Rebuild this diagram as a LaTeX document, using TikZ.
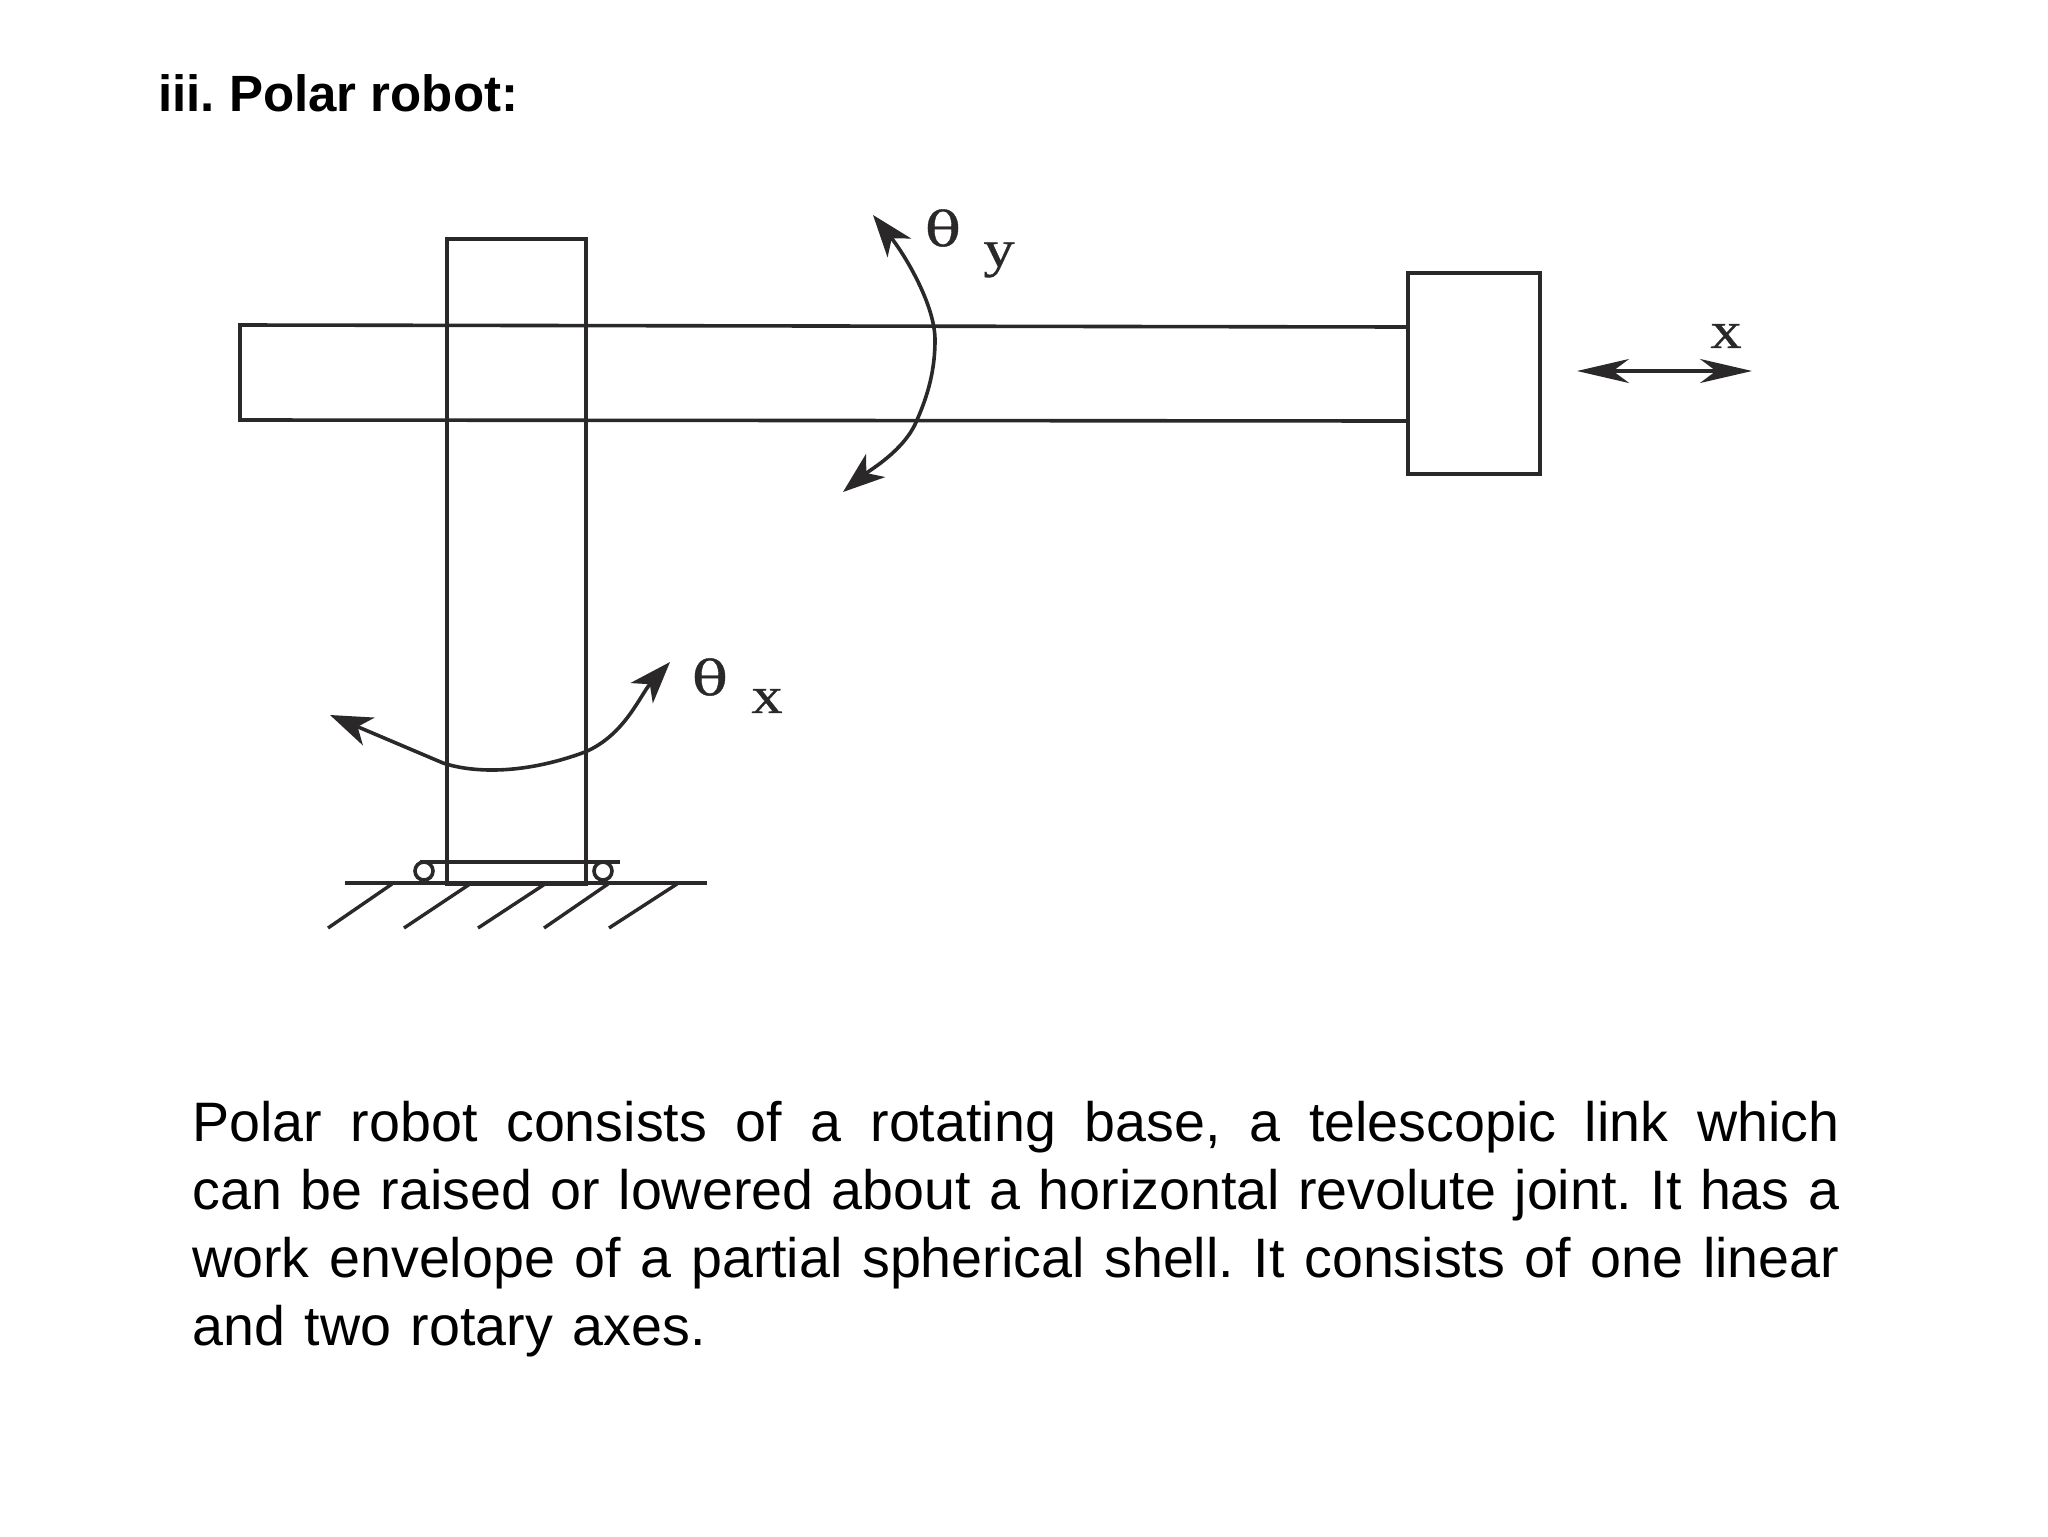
\documentclass[tikz,border=0pt]{standalone}
\usepackage{fontspec}
\setmainfont{Liberation Sans}
\newfontfamily\scanserif[FakeStretch=1.2,FakeBold=0.6]{Liberation Serif}
\newfontfamily\thetafont[FakeStretch=1.25,FakeBold=0.8]{DejaVu Serif}
\usetikzlibrary{arrows.meta}
\definecolor{ink}{HTML}{2A2828}
\tikzset{
  x=0.5pt,y=-0.5pt,
  wire/.style={draw=ink,line width=1.8pt,fill=none},
  thinwire/.style={draw=ink,line width=1.7pt},
  boxpart/.style={wire,rectangle,inner sep=0pt,anchor=north west},
  roller/.style={draw=ink,line width=1.8pt,circle,inner sep=0pt,minimum size=9pt},
  curvehead/.style={{Stealth[length=21pt,width=15pt,inset=6pt]}-{Stealth[length=21pt,width=15pt,inset=6pt]}},
  linehead/.style={{Stealth[length=26pt,width=12pt,inset=8pt]}-{Stealth[length=26pt,width=12pt,inset=8pt]}},
  sxlabel/.style={inner sep=0pt,text=ink,font=\scanserif\fontsize{26}{26}\selectfont},
  thetalabel/.style={inner sep=0pt,text=ink,font=\thetafont\fontsize{24}{24}\selectfont},
}
\begin{document}
\begin{tikzpicture}
\frenchspacing
\useasboundingbox (0,0) rectangle (2048,1536);
\fill[white] (0,0) rectangle (2048,1536);

\node[anchor=base west,inner sep=0pt,font=\bfseries\fontsize{25.5}{30}\selectfont] (title) at (158,112) {iii. Polar robot:};

% column and head
\node[boxpart,minimum width=69.5pt,minimum height=322.5pt] (column) at (445,237) {};
\node[boxpart,minimum width=66pt,minimum height=100.5pt] (head) at (1406,271) {};

% beam
\coordinate (bTL) at (240,325);
\coordinate (bBL) at (240,420);
\coordinate (bTR) at (head.west |- 0,327);
\coordinate (bBR) at (head.west |- 0,421);
\draw[wire,line join=miter] (bTR) -- (bTL) -- (bBL) -- (bBR);

% base
\coordinate (gL) at (345,883);
\coordinate (gR) at (707,883);
\draw[wire] (gL) -- (gR);
\coordinate (sL) at (420,862);
\coordinate (sR) at (620,862);
\draw[thinwire] (sL) -- (sR);
\node[roller] (rollL) at (424,871) {};
\node[roller] (rollR) at (603,871) {};

% hatching
\foreach \n/\a/\b in {1/392/328,2/470/404,3/545/478,4/608/544,5/677/609}{
  \coordinate (h\n t) at (\a,884);
  \coordinate (h\n b) at (\b,928);
  \draw[thinwire] (h\n t) -- (h\n b);
}

% theta y arrow
\coordinate (yA) at (873,215);
\coordinate (yM) at (935,340);
\coordinate (yN) at (917,420);
\coordinate (yB) at (843,492);
\draw[wire,curvehead] (yA) .. controls (905,255) and (935,305) .. (yM)
  .. controls (935,370) and (928,395) .. (yN)
  .. controls (905,450) and (870,470) .. (yB);
\node[thetalabel] (thy) at (943,228) {θ};
\node[sxlabel] (ly) at (999,260) {y};

% theta x arrow
\coordinate (xA) at (330,715);
\coordinate (xM) at (443,763);
\coordinate (xN) at (585,752);
\coordinate (xB) at (670,662);
\draw[wire,curvehead] (xA) -- (xM)
  .. controls (470,772) and (520,776) .. (xN)
  .. controls (625,735) and (640,695) .. (xB);
\node[thetalabel] (thx) at (710,677) {θ};
\node[sxlabel] (lx) at (767,701) {x};

% linear x arrow
\coordinate (tL) at (1577,371);
\coordinate (tR) at (1752,371);
\draw[thinwire,linehead] (tL) -- (tR);
\node[sxlabel] (lxx) at (1726,336) {x};

% body text
\node[anchor=north west,inner sep=0pt,text width=823.5pt,font=\fontsize{27.8}{34}\selectfont] (body) at (192,1101) {%
\parindent=0pt\baselineskip=34pt\spaceskip=0.278em plus 1fil minus 0.05em\relax
\hbox to 823.5pt{Polar robot consists of a rotating base, a telescopic link which}\par
\hbox to 823.5pt{can be raised or lowered about a horizontal revolute joint. It has a}\par
\hbox to 823.5pt{work envelope of a partial spherical shell. It consists of one linear}\par
\spaceskip=0.353em\relax
\hbox{and two rotary axes.}};
\end{tikzpicture}
\end{document}
